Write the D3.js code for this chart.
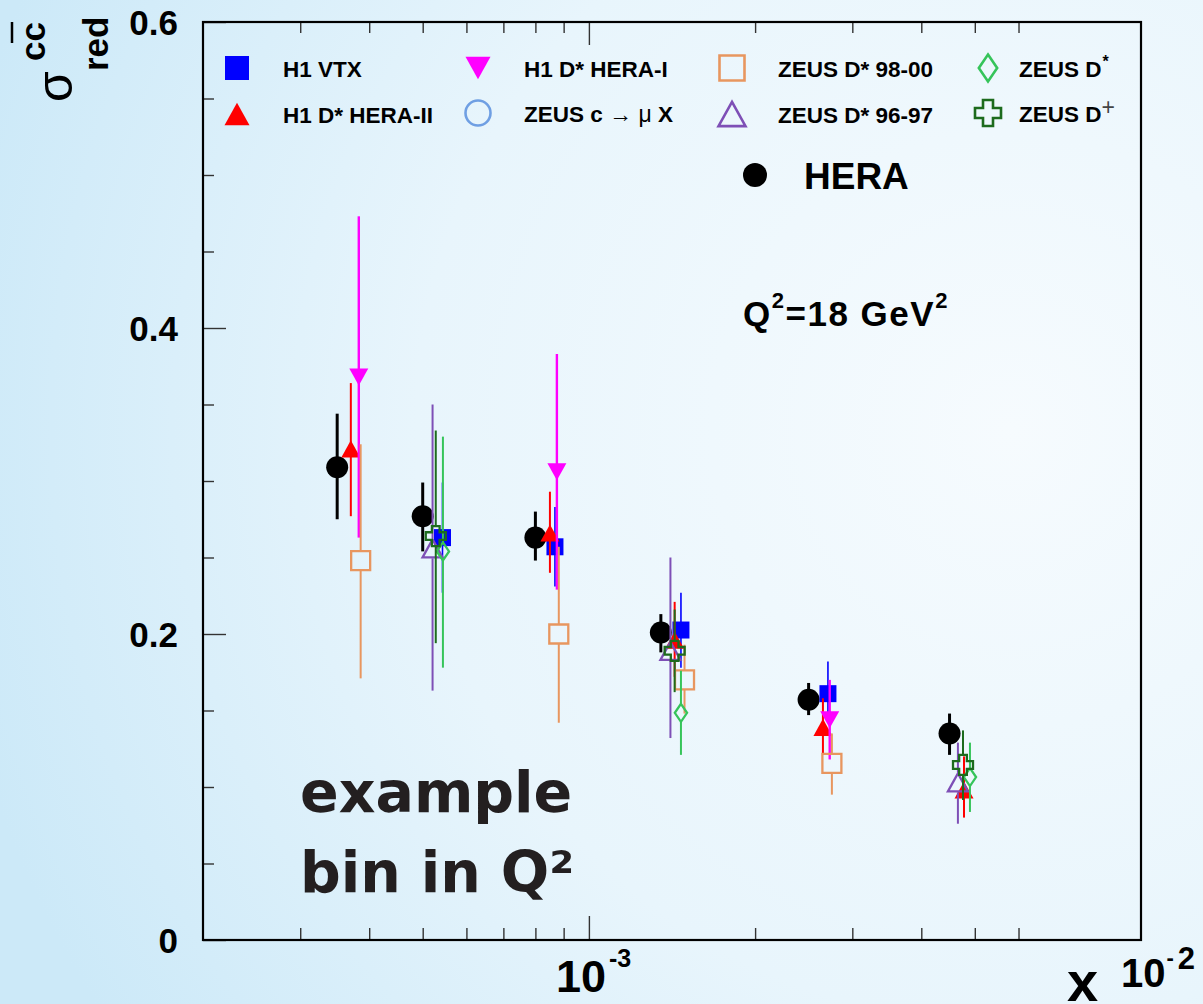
<!DOCTYPE html>
<html>
<head>
<meta charset="utf-8">
<script src="https://cdn.jsdelivr.net/npm/d3@7"></script>
<style>
  body { margin: 0; background: #fff; }
  svg { display: block; }
  text { font-family: "Liberation Sans", Arial, Helvetica, sans-serif; font-weight: bold; }
</style>
</head>
<body>
<div id="chart"></div>
<script>
// ---- data (x as plotted, shifted per data set) ----
var heraX  = [0.00035, 0.0005, 0.0008, 0.00135, 0.0025, 0.0045];
var heraY  = [0.309, 0.277, 0.263, 0.201, 0.157, 0.135];
var heraLo = [0.275, 0.254, 0.248, 0.188, 0.147, 0.121];
var heraHi = [0.344, 0.299, 0.280, 0.213, 0.168, 0.148];

var vtxX  = [0.000543, 0.000868, 0.001468, 0.00271];
var vtxY  = [0.263, 0.257, 0.2026, 0.161];
var vtxLo = [0.227, 0.231, 0.178, 0.148];
var vtxHi = [0.299, 0.283, 0.227, 0.182];

var h1d2X  = [0.0003705, 0.00085, 0.00143, 0.002654, 0.00478];
var h1d2Y  = [0.321, 0.266, 0.196, 0.139, 0.098];
var h1d2Lo = [0.277, 0.240, 0.172, 0.122, 0.080];
var h1d2Hi = [0.364, 0.293, 0.221, 0.158, 0.120];

var h1d1X  = [0.000383, 0.000875, 0.00273];
var h1d1Y  = [0.368, 0.306, 0.144];
var h1d1Lo = [0.263, 0.229, 0.118];
var h1d1Hi = [0.473, 0.383, 0.170];

var zmuX = [], zmuY = [], zmuLo = [], zmuHi = [];

var zd98X  = [0.000386, 0.000882, 0.00149, 0.002755];
var zd98Y  = [0.248, 0.200, 0.170, 0.1154];
var zd98Lo = [0.171, 0.142, 0.148, 0.095];
var zd98Hi = [0.324, 0.257, 0.193, 0.135];

var zd96X  = [0.000521, 0.001405, 0.00466];
var zd96Y  = [0.256, 0.189, 0.103];
var zd96Lo = [0.163, 0.132, 0.076];
var zd96Hi = [0.350, 0.250, 0.129];

var zdsX  = [0.000544, 0.001468, 0.0049];
var zdsY  = [0.254, 0.1485, 0.1065];
var zdsLo = [0.178, 0.121, 0.0837];
var zdsHi = [0.329, 0.176, 0.129];

var zdpX  = [0.000528, 0.00143, 0.00476];
var zdpY  = [0.264, 0.189, 0.1144];
var zdpLo = [0.194, 0.162, 0.0915];
var zdpHi = [0.333, 0.216, 0.137];

var yMajor = [0, 0.2, 0.4, 0.6];
var yMinor = [0.05, 0.1, 0.15, 0.25, 0.3, 0.35, 0.45, 0.5, 0.55];
var xMajor = [0.001];
var xMinor = [0.0003, 0.0004, 0.0005, 0.0006, 0.0007, 0.0008, 0.0009, 0.002, 0.003, 0.004, 0.005, 0.006];

// ---- marker shapes (centred on their bounding box, size = side^2) ----
var triUp = { draw: function(c, s){ var a = Math.sqrt(s), h = a * 0.9;
  c.moveTo(0, -h/2); c.lineTo(a/2, h/2); c.lineTo(-a/2, h/2); c.closePath(); } };
var triDown = { draw: function(c, s){ var a = Math.sqrt(s), h = a * 0.9;
  c.moveTo(0, h/2); c.lineTo(a/2, -h/2); c.lineTo(-a/2, -h/2); c.closePath(); } };
var diamond = { draw: function(c, s){ var a = Math.sqrt(s);
  c.moveTo(0, -a/2); c.lineTo(a*0.34, 0); c.lineTo(0, a/2); c.lineTo(-a*0.34, 0); c.closePath(); } };
var cross = { draw: function(c, s){ var a = Math.sqrt(s)/2, t = a/2.6;
  c.moveTo(-t, -a); c.lineTo(t, -a); c.lineTo(t, -t); c.lineTo(a, -t); c.lineTo(a, t); c.lineTo(t, t);
  c.lineTo(t, a); c.lineTo(-t, a); c.lineTo(-t, t); c.lineTo(-a, t); c.lineTo(-a, -t); c.lineTo(-t, -t); c.closePath(); } };
var square = { draw: function(c, s){ var a = Math.sqrt(s)/2; c.rect(-a, -a, 2*a, 2*a); } };
var circle = { draw: function(c, s){ var r = Math.sqrt(s)/2; c.moveTo(r, 0); c.arc(0, 0, r, 0, 2*Math.PI); } };

function pts(xs, ys, lo, hi){ return xs.map(function(x, i){ return {x: x, y: ys[i], lo: lo[i], hi: hi[i]}; }); }

var series = [
  {name: "HERA", data: pts(heraX, heraY, heraLo, heraHi), color: "#000000", shape: circle, size: 22, fill: true, ew: 3},
  {name: "H1 VTX", data: pts(vtxX, vtxY, vtxLo, vtxHi), color: "#0000ff", shape: square, size: 17, fill: true, ew: 1.6},
  {name: "H1 D* HERA-II", data: pts(h1d2X, h1d2Y, h1d2Lo, h1d2Hi), color: "#ff0000", shape: triUp, size: 19, fill: true, ew: 2},
  {name: "H1 D* HERA-I", data: pts(h1d1X, h1d1Y, h1d1Lo, h1d1Hi), color: "#ff00ff", shape: triDown, size: 19, fill: true, ew: 2.4},
  {name: "ZEUS c mu", data: pts(zmuX, zmuY, zmuLo, zmuHi), color: "#6f9fe3", shape: circle, size: 20, fill: false, ew: 2},
  {name: "ZEUS D* 98-00", data: pts(zd98X, zd98Y, zd98Lo, zd98Hi), color: "#e8965f", shape: square, size: 19, fill: false, ew: 2},
  {name: "ZEUS D* 96-97", data: pts(zd96X, zd96Y, zd96Lo, zd96Hi), color: "#7e4fb6", shape: triUp, size: 20, fill: false, ew: 2},
  {name: "ZEUS D*", data: pts(zdsX, zdsY, zdsLo, zdsHi), color: "#36c45a", shape: diamond, size: 18, fill: false, ew: 2},
  {name: "ZEUS D+", data: pts(zdpX, zdpY, zdpLo, zdpHi), color: "#1d6b1d", shape: cross, size: 20, fill: false, ew: 2}
];

var W = 1203, H = 1004;
var pl = 203, pr = 1141, pt = 22, pb = 940;   // plot frame

var svg = d3.select("#chart").append("svg").attr("width", W).attr("height", H);

var defs = svg.append("defs");
var grad = defs.append("radialGradient").attr("id", "bg")
  .attr("gradientUnits", "userSpaceOnUse")
  .attr("cx", 1010).attr("cy", 430).attr("r", 1080);
grad.append("stop").attr("offset", "0").attr("stop-color", "#f6fbfe");
grad.append("stop").attr("offset", "0.55").attr("stop-color", "#e8f5fc");
grad.append("stop").attr("offset", "1").attr("stop-color", "#cce9f8");
svg.append("rect").attr("width", W).attr("height", H).attr("fill", "url(#bg)");

var x = d3.scaleLog().domain([0.0002, 0.01]).range([pl, pr]);
var y = d3.scaleLinear().domain([0, 0.6]).range([pb, pt]);

// ---- axes ----
function styleAxis(g){
  g.select(".domain").remove();
  g.selectAll(".tick line").attr("stroke", "#333").attr("stroke-width", 1.4);
}
svg.append("g").attr("transform", "translate(" + pl + ",0)")
  .call(d3.axisLeft(y).tickValues(yMajor).tickSize(-23).tickPadding(25).tickFormat(function(d){ return d === 0 ? "0" : d3.format(".1f")(d); }))
  .call(styleAxis)
  .call(function(g){ g.selectAll("text").attr("font-size", 35).attr("fill", "#000").attr("dy", "0.36em"); });
svg.append("g").attr("transform", "translate(" + pl + ",0)")
  .call(d3.axisLeft(y).tickValues(yMinor).tickSize(-11).tickFormat(""))
  .call(styleAxis);

svg.append("g").attr("transform", "translate(0," + pb + ")")
  .call(d3.axisBottom(x).tickValues(xMinor).tickSize(-12).tickFormat(""))
  .call(styleAxis);
svg.append("g").attr("transform", "translate(0," + pb + ")")
  .call(d3.axisBottom(x).tickValues(xMajor).tickSize(-24).tickFormat(""))
  .call(styleAxis);
svg.append("g").attr("transform", "translate(0," + pt + ")")
  .call(d3.axisTop(x).tickValues(xMinor).tickSize(-11).tickFormat(""))
  .call(styleAxis);
svg.append("g").attr("transform", "translate(0," + pt + ")")
  .call(d3.axisTop(x).tickValues(xMajor).tickSize(-23).tickFormat(""))
  .call(styleAxis);

// frame
svg.append("rect").attr("x", pl).attr("y", pt).attr("width", pr - pl).attr("height", pb - pt)
  .attr("fill", "none").attr("stroke", "#000").attr("stroke-width", 2.2);

// x tick label 10^-3
var lab = svg.append("text").attr("x", x(0.001) - 33).attr("y", 992).attr("font-size", 45);
lab.append("tspan").text("10");
lab.append("tspan").attr("font-size", 25).attr("dy", -25).attr("dx", 3).text("-3");

// x axis title
svg.append("text").attr("x", 1067).attr("y", 1001).attr("font-size", 56).text("x");
var lab2 = svg.append("text").attr("x", 1121).attr("y", 987).attr("font-size", 40);
lab2.append("tspan").text("10");
lab2.append("tspan").attr("font-size", 22).attr("dy", -22).attr("dx", 1).text("-");
lab2.append("tspan").attr("font-size", 31).attr("dy", 4).attr("dx", 4).text("2");

// y axis title (rotated)
svg.append("text").attr("transform", "translate(72,102) rotate(-90)").attr("font-size", 50)
  .style("font-weight", "normal").text("σ");
svg.append("text").attr("transform", "translate(45,61) rotate(-90)").attr("font-size", 35).text("cc");
svg.append("line").attr("x1", 12).attr("x2", 12).attr("y1", 22).attr("y2", 43).attr("stroke", "#000").attr("stroke-width", 2.5);
svg.append("text").attr("transform", "translate(108,71) rotate(-90)").attr("font-size", 35).text("red");

// ---- data points ----
var plot = svg.append("g");
series.forEach(function(s){
  var g = plot.append("g");
  var gap = s.fill ? 0 : s.size / 2;
  g.selectAll("line.up").data(s.data).enter().append("line")
    .attr("x1", function(d){ return x(d.x); }).attr("x2", function(d){ return x(d.x); })
    .attr("y1", function(d){ return y(d.hi); }).attr("y2", function(d){ return y(d.y) - gap; })
    .attr("stroke", s.color).attr("stroke-width", s.ew);
  g.selectAll("line.dn").data(s.data).enter().append("line")
    .attr("x1", function(d){ return x(d.x); }).attr("x2", function(d){ return x(d.x); })
    .attr("y1", function(d){ return y(d.y) + gap; }).attr("y2", function(d){ return y(d.lo); })
    .attr("stroke", s.color).attr("stroke-width", s.ew);
  g.selectAll("path").data(s.data).enter().append("path")
    .attr("d", d3.symbol().type(s.shape).size(s.size * s.size))
    .attr("transform", function(d){ return "translate(" + x(d.x) + "," + y(d.y) + ")"; })
    .attr("fill", s.fill ? s.color : "none")
    .attr("stroke", s.color).attr("stroke-width", s.fill ? 0 : 2.3);
});

// ---- legend ----
var legend = [
  {s: 1, x: 237, y: 68, size: 24, label: [["H1 VTX"]]},
  {s: 2, x: 237, y: 114, size: 25, label: [["H1 D* HERA-II"]]},
  {s: 3, x: 478, y: 68, size: 25, label: [["H1 D* HERA-I"]]},
  {s: 4, x: 478, y: 113, size: 25, label: [["ZEUS c "], ["→ μ", "n"], [" X"]]},
  {s: 5, x: 732, y: 68, size: 25, label: [["ZEUS D* 98-00"]]},
  {s: 6, x: 732, y: 114, size: 27, label: [["ZEUS D* 96-97"]]},
  {s: 7, x: 988, y: 68, size: 27, label: [["ZEUS D"], ["*", "sup"]]},
  {s: 8, x: 988, y: 113, size: 26, label: [["ZEUS D"], ["+", "supn"]]}
];
var leg = svg.append("g");
legend.forEach(function(l){
  var s = series[l.s];
  var tx = l.s === 7 || l.s === 8 ? l.x + 31 : l.x + 46;
  leg.append("path").attr("d", d3.symbol().type(s.shape).size(l.size * l.size))
    .attr("transform", "translate(" + l.x + "," + l.y + ")")
    .attr("fill", s.fill ? s.color : "none").attr("stroke", s.color).attr("stroke-width", s.fill ? 0 : 2.6);
  var t = leg.append("text").attr("x", tx).attr("y", l.y + 9).attr("font-size", 22.5);
  l.label.forEach(function(p){
    var ts = t.append("tspan").text(p[0]);
    if (p[1] === "n") ts.style("font-weight", "normal").attr("font-size", 23);
    if (p[1] === "sup") ts.attr("font-size", 16).attr("dy", -10).attr("dx", 1);
    if (p[1] === "supn") ts.attr("font-size", 23).style("font-weight", "normal").attr("fill", "#444").attr("dy", -7).attr("dx", 0);
  });
});

// HERA legend entry
leg.append("path").attr("d", d3.symbol().type(circle).size(24 * 24))
  .attr("transform", "translate(755,175)").attr("fill", "#000");
svg.append("text").attr("x", 804).attr("y", 189).attr("font-size", 37).text("HERA");

// Q2 label
var q = svg.append("text").attr("x", 743).attr("y", 326).attr("font-size", 35).attr("letter-spacing", 1.5);
q.append("tspan").text("Q");
q.append("tspan").attr("font-size", 22).attr("dy", -18).text("2");
q.append("tspan").attr("dy", 18).text("=18 GeV");
q.append("tspan").attr("font-size", 22).attr("dy", -18).text("2");

// annotation
var ann = svg.append("g").attr("fill", "#231f20");
ann.append("text").attr("x", 300).attr("y", 812).attr("font-size", 57)
  .style("font-family", "'DejaVu Sans', sans-serif").text("example");
ann.append("text").attr("x", 300).attr("y", 892).attr("font-size", 57)
  .style("font-family", "'DejaVu Sans', sans-serif").text("bin in Q²");
</script>
</body>
</html>
